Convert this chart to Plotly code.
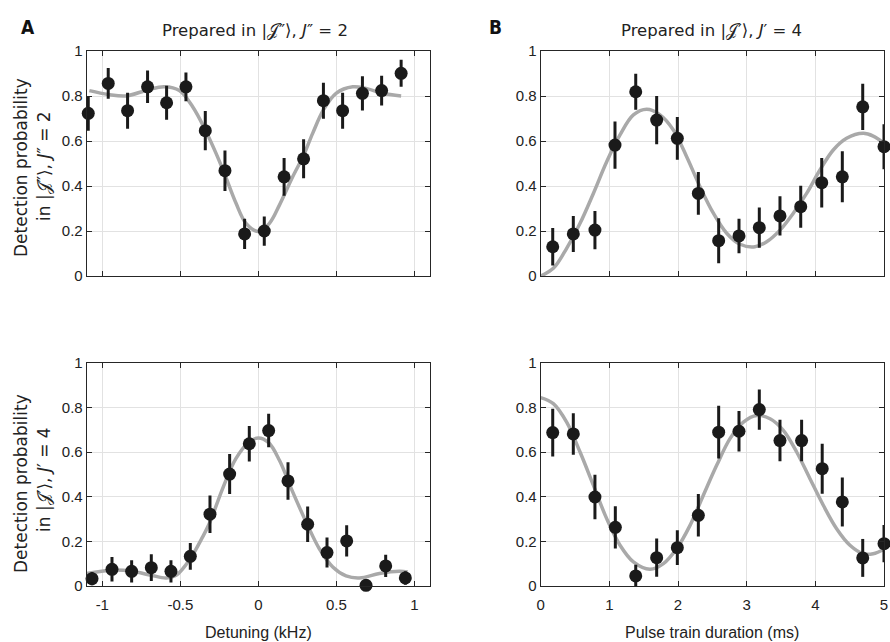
import plotly.graph_objects as go

# ---------------- data ----------------
# Panel A top: prepared in |J''>, detected in |J''>
tl_x = [-1.09, -0.962, -0.838, -0.71, -0.588, -0.464, -0.34, -0.214, -0.088, 0.038, 0.165, 0.29, 0.417, 0.54, 0.667, 0.79, 0.915]
tl_y = [0.723, 0.856, 0.735, 0.841, 0.770, 0.841, 0.646, 0.468, 0.187, 0.200, 0.441, 0.521, 0.779, 0.735, 0.812, 0.824, 0.901]
tl_err = [0.077, 0.068, 0.08, 0.072, 0.076, 0.064, 0.087, 0.09, 0.067, 0.065, 0.084, 0.087, 0.08, 0.08, 0.076, 0.066, 0.06]
tl_fit_x = [-1.083, -0.962, -0.849, -0.71, -0.603, -0.506, -0.421, -0.34, -0.271, -0.214, -0.143, -0.079, 0.0, 0.071, 0.135, 0.22, 0.291, 0.348, 0.417, 0.498, 0.605, 0.69, 0.797, 0.915]
tl_fit_y = [0.824, 0.807, 0.800, 0.827, 0.841, 0.824, 0.752, 0.649, 0.545, 0.449, 0.323, 0.234, 0.198, 0.234, 0.315, 0.441, 0.538, 0.634, 0.738, 0.812, 0.841, 0.834, 0.812, 0.800]

# Panel A bottom: prepared in |J''>, detected in |J'>
bl_x = [-1.066, -0.938, -0.812, -0.686, -0.56, -0.436, -0.31, -0.184, -0.058, 0.066, 0.19, 0.316, 0.44, 0.566, 0.69, 0.816, 0.942]
bl_y = [0.033, 0.075, 0.066, 0.082, 0.066, 0.133, 0.322, 0.502, 0.638, 0.697, 0.471, 0.277, 0.15, 0.202, 0.003, 0.09, 0.036]
bl_err = [0.03, 0.055, 0.05, 0.06, 0.05, 0.06, 0.084, 0.09, 0.08, 0.075, 0.084, 0.08, 0.067, 0.07, 0.0, 0.05, 0.03]
bl_fit_x = [-1.1, -0.938, -0.81, -0.686, -0.59, -0.527, -0.436, -0.357, -0.31, -0.229, -0.144, -0.058, 0.0, 0.066, 0.135, 0.22, 0.316, 0.391, 0.477, 0.562, 0.648, 0.776, 0.904, 0.957]
bl_fit_y = [0.056, 0.071, 0.066, 0.048, 0.036, 0.048, 0.123, 0.22, 0.287, 0.437, 0.571, 0.646, 0.664, 0.643, 0.564, 0.422, 0.272, 0.167, 0.085, 0.045, 0.036, 0.056, 0.066, 0.063]

# Panel B top: prepared in |J'>, detected in |J''>
tr_x = [0.175, 0.475, 0.79, 1.082, 1.384, 1.689, 1.99, 2.296, 2.592, 2.888, 3.184, 3.485, 3.787, 4.093, 4.393, 4.69, 5.0]
tr_y = [0.13, 0.187, 0.204, 0.582, 0.819, 0.693, 0.612, 0.367, 0.157, 0.178, 0.215, 0.267, 0.308, 0.415, 0.441, 0.752, 0.575]
tr_err = [0.083, 0.08, 0.085, 0.105, 0.08, 0.107, 0.095, 0.095, 0.1, 0.077, 0.089, 0.087, 0.093, 0.11, 0.113, 0.103, 0.1]
tr_fit_x = [0, 0.184, 0.378, 0.573, 0.767, 0.961, 1.155, 1.35, 1.544, 1.738, 1.932, 2.126, 2.32, 2.515, 2.709, 2.903, 3.121, 3.291, 3.485, 3.679, 3.873, 4.067, 4.261, 4.455, 4.698, 4.843, 5.0]
tr_fit_y = [0, 0.034, 0.123, 0.234, 0.367, 0.508, 0.627, 0.716, 0.741, 0.716, 0.649, 0.53, 0.397, 0.279, 0.19, 0.141, 0.13, 0.152, 0.204, 0.279, 0.367, 0.471, 0.56, 0.612, 0.634, 0.622, 0.59]

# Panel B bottom: prepared in |J'>, detected in |J'>
br_x = [0.175, 0.475, 0.79, 1.087, 1.384, 1.689, 1.99, 2.296, 2.592, 2.888, 3.184, 3.485, 3.80, 4.10, 4.393, 4.69, 5.0]
br_y = [0.688, 0.682, 0.399, 0.263, 0.045, 0.127, 0.172, 0.317, 0.69, 0.694, 0.791, 0.652, 0.652, 0.526, 0.377, 0.126, 0.19]
br_err = [0.107, 0.093, 0.1, 0.095, 0.05, 0.086, 0.078, 0.095, 0.118, 0.091, 0.09, 0.093, 0.093, 0.112, 0.11, 0.085, 0.084]
br_fit_x = [0, 0.184, 0.378, 0.573, 0.767, 0.961, 1.155, 1.35, 1.592, 1.787, 1.981, 2.175, 2.369, 2.563, 2.757, 2.952, 3.146, 3.34, 3.534, 3.728, 3.922, 4.116, 4.31, 4.504, 4.698, 4.843, 5.0]
br_fit_y = [0.845, 0.818, 0.735, 0.601, 0.452, 0.302, 0.183, 0.108, 0.075, 0.1, 0.168, 0.272, 0.407, 0.541, 0.661, 0.735, 0.765, 0.75, 0.698, 0.601, 0.481, 0.362, 0.257, 0.183, 0.145, 0.145, 0.165]

det_ticks = [-1, -0.5, 0, 0.5, 1]
det_labels = ["-1", "-0.5", "0", "0.5", "1"]
dur_ticks = [0, 1, 2, 3, 4, 5]
dur_labels = ["0", "1", "2", "3", "4", "5"]
prob_ticks = [0, 0.2, 0.4, 0.6, 0.8, 1]
prob_labels = ["0", "0.2", "0.4", "0.6", "0.8", "1"]

# ---------------- figure ----------------
W, H = 890, 642
FIT_COLOR = "#a9a9a9"
PT_COLOR = "#1a1a1a"
AX_COLOR = "#262626"
TICK_FONT = dict(family="Liberation Sans, Arial, sans-serif", size=15, color="#222222")
TITLE_FONT = dict(family="DejaVu Sans, Verdana, sans-serif", size=16.5, color="#222222")

fig = go.Figure()

panels = [
    ("x", "y", tl_x, tl_y, tl_err, tl_fit_x, tl_fit_y),
    ("x2", "y2", bl_x, bl_y, bl_err, bl_fit_x, bl_fit_y),
    ("x3", "y3", tr_x, tr_y, tr_err, tr_fit_x, tr_fit_y),
    ("x4", "y4", br_x, br_y, br_err, br_fit_x, br_fit_y),
]
for xa, ya, px, py, pe, fx, fy in panels:
    fig.add_trace(go.Scatter(x=fx, y=fy, mode="lines", xaxis=xa, yaxis=ya,
                             line=dict(color=FIT_COLOR, width=3.5, shape="spline", smoothing=1.0),
                             hoverinfo="skip", showlegend=False))
    fig.add_trace(go.Scatter(x=px, y=py, mode="markers", xaxis=xa, yaxis=ya,
                             marker=dict(color=PT_COLOR, size=13),
                             error_y=dict(type="data", array=pe, color=PT_COLOR, thickness=3, width=0),
                             cliponaxis=False, showlegend=False))

def px2x(p):
    return p / W

def py2y(p):
    return 1 - p / H

common = dict(showline=True, linecolor=AX_COLOR, linewidth=1, mirror="ticks",
              ticks="inside", ticklen=5, tickcolor=AX_COLOR, tickwidth=1,
              showgrid=True, gridcolor="#e2e2e2", gridwidth=1, zeroline=False,
              tickfont=TICK_FONT, automargin=False)

left_dom = [px2x(86.7), px2x(430)]
right_dom = [px2x(540.7), px2x(884)]
top_dom = [py2y(276), py2y(51)]
bot_dom = [py2y(586), py2y(363)]

fig.update_layout(
    width=W, height=H,
    margin=dict(l=0, r=0, t=0, b=0, autoexpand=False),
    paper_bgcolor="white", plot_bgcolor="white",
    showlegend=False,
    xaxis=dict(domain=left_dom, anchor="y", range=[-1.1, 1.1], tickvals=det_ticks,
               ticktext=det_labels, showticklabels=False, **common),
    yaxis=dict(domain=top_dom, anchor="x", range=[0, 1], tickvals=prob_ticks,
               ticktext=prob_labels, **common),
    xaxis2=dict(domain=left_dom, anchor="y2", range=[-1.1, 1.1], tickvals=det_ticks,
                ticktext=det_labels, ticklabelstandoff=5, **common),
    yaxis2=dict(domain=bot_dom, anchor="x2", range=[0, 1], tickvals=prob_ticks,
                ticktext=prob_labels, **common),
    xaxis3=dict(domain=right_dom, anchor="y3", range=[0, 5], tickvals=dur_ticks,
                ticktext=dur_labels, showticklabels=False, **common),
    yaxis3=dict(domain=top_dom, anchor="x3", range=[0, 1], tickvals=prob_ticks,
                ticktext=prob_labels, **common),
    xaxis4=dict(domain=right_dom, anchor="y4", range=[0, 5], tickvals=dur_ticks,
                ticktext=dur_labels, ticklabelstandoff=5, **common),
    yaxis4=dict(domain=bot_dom, anchor="x4", range=[0, 1], tickvals=prob_ticks,
                ticktext=prob_labels, **common),
)

def ann(text, x, y, font, angle=0):
    fig.add_annotation(text=text, x=px2x(x), y=py2y(y), xref="paper", yref="paper",
                       xanchor="center", yanchor="middle", showarrow=False,
                       textangle=angle, font=font)

LABEL_FONT = dict(family="DejaVu Sans Condensed, Liberation Sans Narrow, Arial", size=19, color="#111111")
ann("<b>A</b>", 28, 27, LABEL_FONT)
ann("<b>B</b>", 495, 27, LABEL_FONT)

ann("Prepared in |𝒥″⟩, <i>J</i>″ = 2", 255, 31, TITLE_FONT)
ann("Prepared in |𝒥′⟩, <i>J</i>′ = 4", 711, 31, TITLE_FONT)

YT_FONT = dict(family="DejaVu Sans, Verdana, sans-serif", size=17, color="#222222")
ann("Detection probability", 21, 168, YT_FONT, -90)
ann("in |𝒥″⟩, <i>J</i>″ = 2", 44, 166, YT_FONT, -90)
ann("Detection probability", 21, 484, YT_FONT, -90)
ann("in |𝒥′⟩, <i>J</i>′ = 4", 44, 480, YT_FONT, -90)

XT_FONT = dict(family="Liberation Sans, Arial, sans-serif", size=16, color="#222222")
ann("Detuning (kHz)", 258, 632, XT_FONT)
ann("Pulse train duration (ms)", 712, 632, XT_FONT)

fig.write_html("out.html", config={"displayModeBar": False},
               post_script="document.body.style.margin='0';document.body.style.overflow='hidden';")
